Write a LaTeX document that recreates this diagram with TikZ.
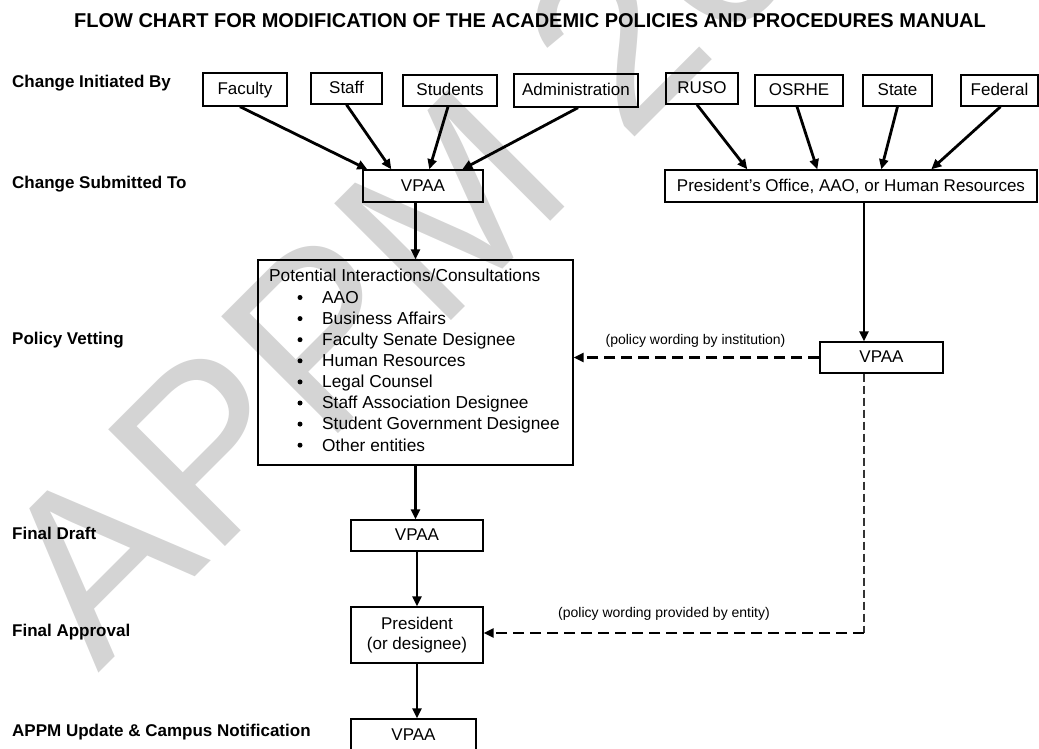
\documentclass[tikz,border=0pt]{standalone}
\usepackage{fontspec}
\setmainfont{Liberation Sans}
\usetikzlibrary{arrows.meta}
\definecolor{draftgray}{RGB}{212,212,212}

\begin{document}
\begin{tikzpicture}[x=1pt,y=-1pt,
    box/.style={draw,line width=1.4pt,inner sep=0pt,font=\fontsize{17}{20}\selectfont,text height=12pt,text depth=2pt},
    stage/.style={anchor=base west,inner sep=0pt,font=\bfseries\fontsize{17}{20}\selectfont},
    listtext/.style={anchor=base west,inner sep=0pt,font=\fontsize{17.3}{20}\selectfont},
    note/.style={inner sep=0pt,font=\fontsize{14}{16}\selectfont},
    flow/.style={line width=2.8pt,-{Triangle[length=10pt,width=9pt]}},
    wording/.style={line width=2.8pt,dash pattern=on 11pt off 6pt,-{Triangle[length=10pt,width=9pt]}},
    trail/.style={line width=1.1pt,black!80,dash pattern=on 8pt off 4pt}]
      \useasboundingbox (0,0) rectangle (1039,749);

      % watermark
      \begin{scope}
        \clip (0,0) rectangle (1039,749);
        \node[draftgray,rotate=45,anchor=base west,inner sep=0pt,font=\fontsize{240}{240}\selectfont] (wmark) at (98,674) {APPM 20};
      \end{scope}

      \node[anchor=base,inner sep=0pt,font=\bfseries\fontsize{20}{24}\selectfont] (title) at (530,28) {FLOW CHART FOR MODIFICATION OF THE ACADEMIC POLICIES AND PROCEDURES MANUAL};

      % stages
      \node[stage] (initiated) at (12,88) {Change Initiated By};
      \node[stage] (submitted) at (12,188) {Change Submitted To};
      \node[stage] (vetting) at (12,344) {Policy Vetting};
      \node[stage] (draft) at (12,539) {Final Draft};
      \node[stage] (approval) at (12,636) {Final Approval};
      \node[stage] (update) at (12,736) {APPM Update \& Campus Notification};

      % who starts a change
      \node[box,minimum width=84,minimum height=33] (fac) at (245,89.5) {Faculty};
      \node[box,minimum width=71,minimum height=31] (sta) at (346.5,88.5) {Staff};
      \node[box,minimum width=94,minimum height=31] (stu) at (450,90.5) {Students};
      \node[box,minimum width=124,minimum height=33] (adm) at (576,90.5) {Administration};
      \node[box,minimum width=72,minimum height=31] (ruso) at (702,88.5) {RUSO};
      \node[box,minimum width=88,minimum height=31] (osrhe) at (799,90.5) {OSRHE};
      \node[box,minimum width=69,minimum height=31] (state) at (897.5,90.5) {State};
      \node[box,minimum width=77,minimum height=31] (fed) at (999.5,90.5) {Federal};

      \node[box,minimum width=120,minimum height=32] (vpaa1) at (423,186) {VPAA};
      \node[box,minimum width=372,minimum height=32] (pres) at (851,186) {President's Office, AAO, or Human Resources};

      % vetting
      \node[draw,line width=1.4pt,minimum width=315,minimum height=205,inner sep=0pt] (pot) at (415.5,362.5) {};
      \node[listtext] (heading) at (269,281) {Potential Interactions/Consultations};
      \foreach \t [count=\i from 0] in {AAO,Business Affairs,Faculty Senate Designee,Human Resources,Legal Counsel,Staff Association Designee,Student Government Designee,Other entities} {
        \fill (300,{297.5+21.1*\i}) circle[radius=2.5];
        \node[listtext] (item\i) at (322,{303.3+21.1*\i}) {\t};
      }
      \node[box,minimum width=123,minimum height=31] (vpaa2) at (881.5,357.5) {VPAA};

      \node[box,minimum width=132,minimum height=31] (vpaa3) at (417,535.5) {VPAA};
      \node[box,minimum width=132,minimum height=56,align=center,text height=,text depth=] (prsd) at (417,635) {President\\(or designee)};
      \node[box,minimum width=125,minimum height=33] (vpaa4) at (413.5,735.5) {VPAA};

      \coordinate (turn) at (864,633);

      \draw[flow] ([xshift=-5pt]fac.south) -- ([xshift=5pt]vpaa1.north west);
      \draw[flow] (sta.south) -- ([xshift=29pt]vpaa1.north west);
      \draw[flow] ([xshift=-2pt]stu.south) -- ([xshift=67pt]vpaa1.north west);
      \draw[flow] ([xshift=2pt]adm.south) -- ([xshift=100pt]vpaa1.north west);
      \draw[flow] ([xshift=-5pt]ruso.south) -- ([xshift=83pt]pres.north west);
      \draw[flow] ([xshift=-2pt]osrhe.south) -- ([xshift=153pt]pres.north west);
      \draw[flow] (state.south) -- ([xshift=217pt]pres.north west);
      \draw[flow] ([xshift=1pt]fed.south) -- ([xshift=267pt]pres.north west);

      \draw[flow] (vpaa1.south -| pot.north) -- (pot.north);
      \draw[flow] (pres.south -| turn) -- (vpaa2.north -| turn);
      \draw[wording] (vpaa2.west) -- (pot.east |- vpaa2.west);
      \node[note] (byinst) at (695.5,341) {(policy wording by institution)};

      \draw[flow] (pot.south) -- (pot.south |- vpaa3.north);
      \draw[flow] (vpaa3.south) -- (prsd.north);
      \draw[flow] (prsd.south) -- (prsd.south |- vpaa4.north);

      \draw[trail] (vpaa2.south -| turn) -- (turn);
      \draw[wording] (turn) -- (prsd.east |- turn);
      \node[note] (byentity) at (664,614) {(policy wording provided by entity)};

    \end{tikzpicture}
\end{document}
